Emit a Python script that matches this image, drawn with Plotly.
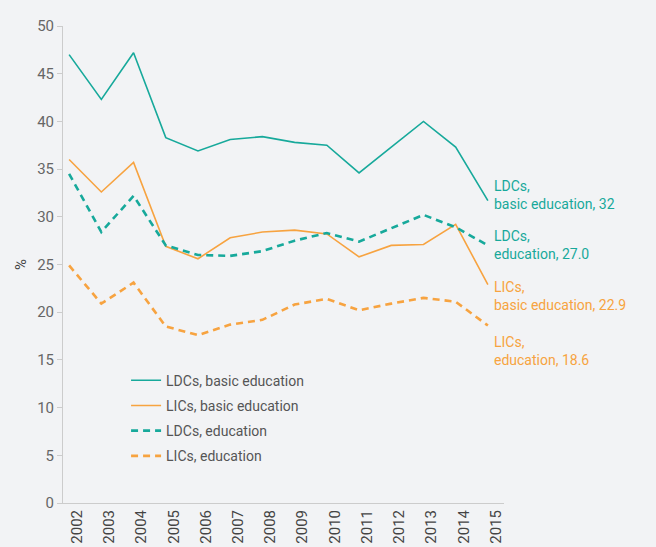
import plotly.graph_objects as go

years = list(range(2002, 2016))
ldc_basic = [47.0, 42.3, 47.2, 38.3, 36.9, 38.1, 38.4, 37.8, 37.5, 34.6, 37.3, 40.0, 37.3, 31.7]
lic_basic = [36.0, 32.6, 35.7, 26.9, 25.6, 27.8, 28.4, 28.6, 28.2, 25.8, 27.0, 27.1, 29.2, 22.9]
ldc_edu = [34.5, 28.4, 32.2, 27.0, 26.0, 25.9, 26.4, 27.5, 28.3, 27.4, 28.8, 30.2, 28.9, 27.0]
lic_edu = [24.9, 20.9, 23.1, 18.5, 17.6, 18.7, 19.2, 20.8, 21.4, 20.2, 20.9, 21.5, 21.1, 18.6]

TEAL = "#17a99b"
ORANGE = "#f7a340"
BG = "#f2f3f5"
FONT = "Roboto, sans-serif"

fig = go.Figure()
series = [
    ("LDCs, basic education", ldc_basic, TEAL, "solid", 1.6),
    ("LICs, basic education", lic_basic, ORANGE, "solid", 1.6),
    ("LDCs, education", ldc_edu, TEAL, "7px,5px", 2.6),
    ("LICs, education", lic_edu, ORANGE, "7px,5px", 2.6),
]
for i, (name, vals, col, dash, w) in enumerate(series):
    fig.add_trace(go.Scatter(x=years, y=vals, name=name, mode="lines", legendgroup=f"g{i}",
                             line=dict(color=col, width=w, dash=dash)))

labels = [
    ("LDCs,<br>basic education, 32", ldc_basic[-1], TEAL, 6),
    ("LDCs,<br>education, 27.0", ldc_edu[-1], TEAL, 0),
    ("LICs,<br>basic education, 22.9", lic_basic[-1], ORANGE, -11),
    ("LICs,<br>education, 18.6", lic_edu[-1], ORANGE, -25),
]
for text, yv, col, ys in labels:
    fig.add_annotation(x=2015, y=yv, xref="x", yref="y", text=text, showarrow=False,
                       xanchor="left", yanchor="middle", xshift=4, yshift=ys, align="left",
                       font=dict(family=FONT, size=14, color=col))

fig.update_layout(
    width=648, height=539,
    margin=dict(l=55, r=152, t=18, b=44),
    paper_bgcolor=BG, plot_bgcolor=BG,
    font=dict(family=FONT, size=14, color="#666666"),
    showlegend=True,
    legend=dict(x=0.143, y=0.29, xanchor="left", yanchor="top", bgcolor="rgba(0,0,0,0)",
                font=dict(family=FONT, size=14, color="#555555"), tracegroupgap=4),
)
fig.update_xaxes(range=[2001.81, 2015.5], tickmode="array", tickvals=years,
                 ticktext=[str(y) for y in years], tickangle=-90, ticklabelshift=8,
                 showgrid=False, zeroline=False, showline=True, linecolor="#cccccc",
                 linewidth=1, ticks="", automargin=False,
                 tickfont=dict(family=FONT, size=15, color="#444444"))
fig.update_yaxes(range=[0, 50], dtick=5, showgrid=False, zeroline=False, showline=True,
                 linecolor="#cccccc", linewidth=1, ticks="outside", ticklen=5,
                 tickcolor="#cccccc", automargin=False,
                 title=dict(text="%", standoff=6, font=dict(family=FONT, size=15, color="#444444")),
                 tickfont=dict(family=FONT, size=15, color="#666666"))

fig.write_html("out.html",
               post_script="document.documentElement.style.background='%s';"
                           "document.body.style.background='%s';" % (BG, BG))
